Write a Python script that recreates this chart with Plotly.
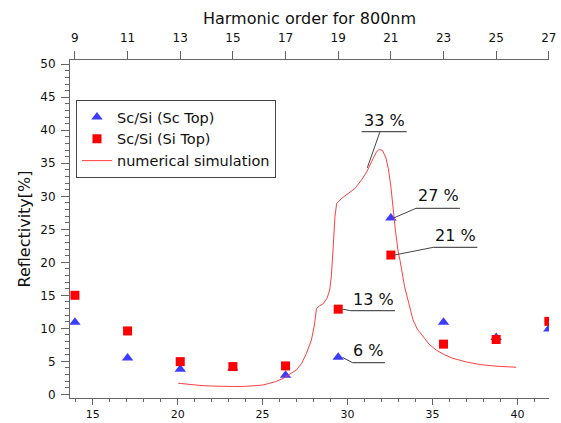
import plotly.graph_objects as go

# ---------------- data ----------------
harmonics = [9, 11, 13, 15, 17, 19, 21, 23, 25, 27]
ev_per_harmonic = 1.55  # 800 nm photon energy
energy = [h * ev_per_harmonic for h in harmonics]

sc_top = [10.9, 5.5, 3.8, 4.0, 2.9, 5.6, 26.7, 10.9, 8.6, 9.9]
si_top = [15.0, 9.6, 4.95, 4.2, 4.3, 12.9, 21.1, 7.6, 8.3, 11.05]

sim_x = [20.03, 20.6, 21.3, 22.0, 22.5, 23.3, 24.0, 24.44, 25.0, 25.42, 25.8, 26.2,
         26.6, 27.0, 27.3, 27.58, 27.87, 28.05, 28.17, 28.35, 28.56, 28.8, 28.95,
         29.05, 29.16, 29.26, 29.36, 29.5, 29.66, 30.05, 30.44, 30.83, 31.13, 31.52,
         31.72, 31.87, 32.07, 32.26, 32.4, 32.55, 32.67, 32.82, 32.99, 33.09, 33.36,
         33.66, 33.85, 34.1, 34.44, 34.8, 35.22, 35.7, 36.2, 37.0, 37.8, 38.8, 39.93]
sim_y = [1.67, 1.5, 1.35, 1.25, 1.2, 1.18, 1.2, 1.25, 1.4, 1.67, 1.95, 2.4,
         3.0, 3.7, 4.7, 6.2, 8.2, 10.5, 13.0, 13.4, 13.7, 14.6, 15.8,
         18.0, 22.5, 27.0, 28.9, 29.3, 29.7, 30.45, 31.2, 32.5, 33.7, 35.8,
         36.8, 37.1, 36.9, 35.8, 34.2, 31.5, 28.4, 24.8, 21.4, 20.3, 16.3,
         13.3, 11.3, 9.9, 8.7, 7.6, 6.7, 6.0, 5.45, 4.9, 4.5, 4.25, 4.1]

peak_label = "33 %"
point_labels = ["27 %", "21 %", "13 %", "6 %"]

# ---------------- style ----------------
FONT = "DejaVu Sans"
AX = "#666666"
TXT = "#111111"
BLUE = "#3c3cff"
RED = "#ff0000"
SIMRED = "#ff4040"

x_range = [13.66, 41.86]
y_range = [-0.56, 50.65]

fig = go.Figure()

fig.add_trace(go.Scatter(
    x=energy, y=sc_top, mode="markers", name="Sc/Si (Sc Top)",
    marker=dict(symbol="triangle-up", size=10, color=BLUE, line=dict(width=0))))
fig.add_trace(go.Scatter(
    x=energy, y=si_top, mode="markers", name="Sc/Si (Si Top)",
    marker=dict(symbol="square", size=9, color=RED, line=dict(width=0))))
fig.add_trace(go.Scatter(
    x=sim_x, y=sim_y, mode="lines", name="numerical simulation",
    line=dict(color=SIMRED, width=1)))
# helper trace so the top (harmonic order) axis is rendered
fig.add_trace(go.Scatter(x=[None], y=[None], xaxis="x2", showlegend=False,
                         hoverinfo="skip"))

# ---------------- labels with underline + pointer ----------------
idx21 = harmonics.index(21)
idx19 = harmonics.index(19)

# (text, text_x, text_y, underline_x0, underline_x1, underline_y, line_start_x, target_x, target_y)
labels = [
    (peak_label, 32.16, 41.56, 30.83, 33.48, 39.79, 31.91, 31.16, 34.3),
    (point_labels[0], 35.34, 30.05, 34.03, 36.62, 28.18, 34.03, energy[idx21] + 0.15, sc_top[idx21]),
    (point_labels[1], 36.37, 24.03, 35.05, 37.64, 22.27, 35.05, energy[idx21] + 0.2, si_top[idx21]),
    (point_labels[2], 31.52, 14.39, 30.19, 32.79, 12.67, 30.19, energy[idx19] + 0.25, si_top[idx19]),
    (point_labels[3], 31.22, 6.61, 30.30, 32.20, 4.79, 30.30, energy[idx19] + 0.25, sc_top[idx19]),
]

shapes = []
annotations = []
for txt, tx, ty, u0, u1, uy, ls, px, py in labels:
    annotations.append(dict(x=tx, y=ty, xref="x", yref="y", text=txt, showarrow=False,
                            font=dict(family=FONT, size=16, color=TXT)))
    shapes.append(dict(type="line", xref="x", yref="y", x0=u0, x1=u1, y0=uy, y1=uy,
                       line=dict(color="#555555", width=1.3)))
    shapes.append(dict(type="line", xref="x", yref="y", x0=ls, y0=uy, x1=px, y1=py,
                       line=dict(color="#444444", width=1)))

fig.update_layout(
    width=561, height=423, autosize=False,
    margin=dict(l=70, r=12, t=60, b=25, autoexpand=False),
    paper_bgcolor="white", plot_bgcolor="white",
    font=dict(family=FONT, size=12, color=TXT),
    shapes=shapes, annotations=annotations,
    showlegend=True,
    legend=dict(x=0.0125, y=0.8817, xanchor="left", yanchor="top",
                bordercolor="#444444", borderwidth=1, bgcolor="white",
                font=dict(family=FONT, size=14.5, color=TXT),
                tracegroupgap=0),
    xaxis=dict(range=x_range, showline=True, linecolor=AX, linewidth=1,
               ticks="outside", ticklen=6, tickcolor=AX, tickwidth=1,
               tick0=0, dtick=5, showgrid=False, zeroline=False,
               ticklabelstandoff=0, automargin=False,
               minor=dict(dtick=1, ticklen=3, ticks="outside", tickcolor=AX, showgrid=False),
               tickfont=dict(family=FONT, size=11, color=TXT)),
    xaxis2=dict(overlaying="x", side="top",
                range=[x_range[0] / ev_per_harmonic, x_range[1] / ev_per_harmonic],
                tickvals=harmonics, ticktext=[str(h) for h in harmonics],
                showline=True, linecolor=AX, linewidth=1,
                ticks="outside", ticklen=8, tickcolor=AX, tickwidth=1,
                showgrid=False, zeroline=False, ticklabelstandoff=4, automargin=False,
                tickfont=dict(family=FONT, size=12, color=TXT),
                title=dict(text="Harmonic order for 800nm",
                           font=dict(family=FONT, size=16, color=TXT), standoff=2)),
    yaxis=dict(range=y_range, showline=True, linecolor=AX, linewidth=1,
               ticks="outside", ticklen=8, tickcolor=AX, tickwidth=1,
               tick0=0, dtick=5, showgrid=False, zeroline=False,
               ticklabelstandoff=3, automargin=False,
               minor=dict(dtick=1, ticklen=4, ticks="outside", tickcolor=AX, showgrid=False),
               tickfont=dict(family=FONT, size=12, color=TXT),
               title=dict(text="Reflectivity[%]",
                          font=dict(family=FONT, size=16, color=TXT), standoff=5)),
)

fig.write_html("out.html", config={"displayModeBar": False},
               post_script="document.body.style.margin='0';document.body.style.overflow='hidden';")
